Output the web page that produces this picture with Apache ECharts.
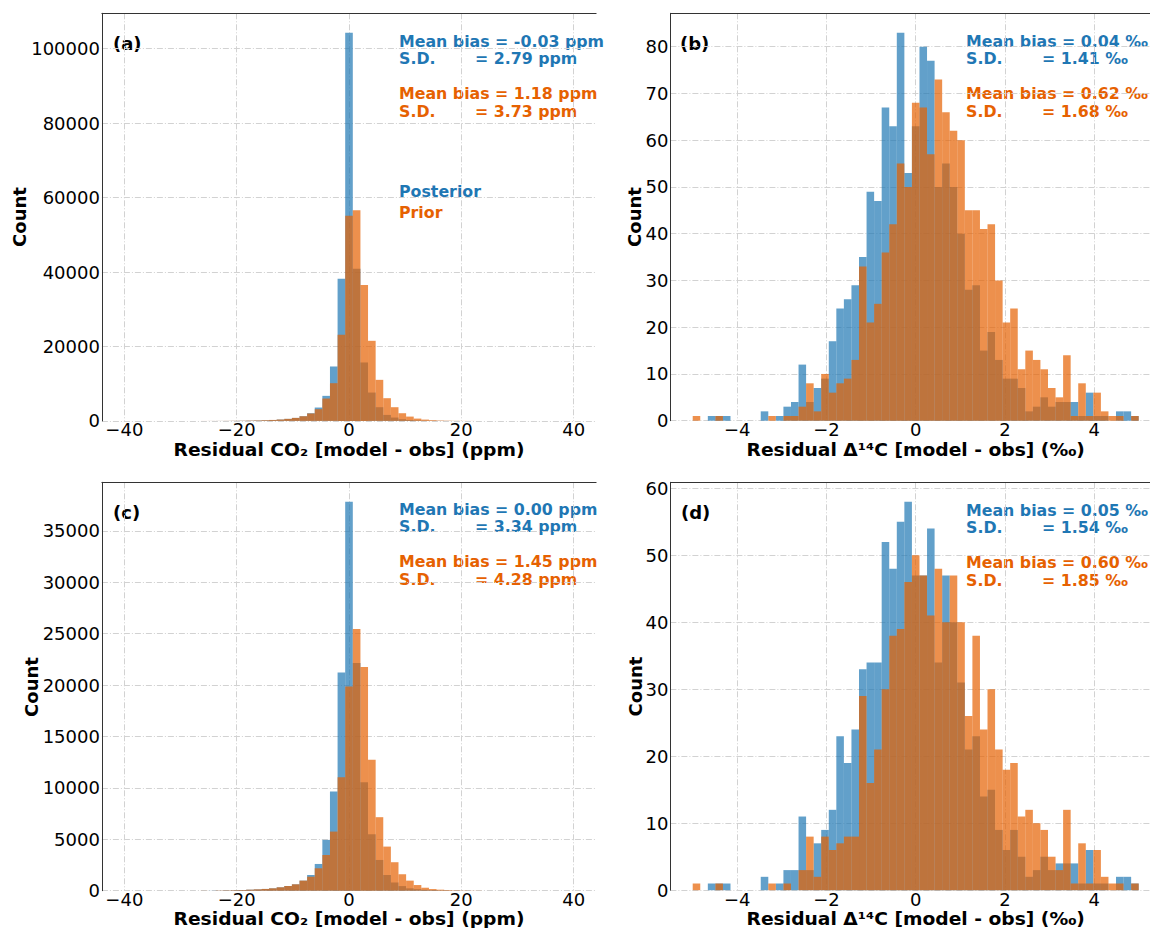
<!DOCTYPE html>
<html>
<head>
<meta charset="utf-8">
<script src="https://cdn.jsdelivr.net/npm/echarts@6/dist/echarts.min.js"></script>
<style>
html,body{margin:0;padding:0;background:#ffffff;}
#chart{width:1150px;height:928px;}
</style>
</head>
<body>
<div id="chart"></div>
<script>
// ---------------- DATA ----------------
// CO2 residual histograms: 59 bins spanning -40 .. 40 ppm
const co2BinStart = -40;
const co2BinWidth = 80 / 59;
const co2PostA = [0,0,0,0,0,0,0,0,0,0, 5,10,15,20,30,50,80,120,180,250, 360,540,800,1250,2060,3590,6730,14620,38200,104300, 40890,15700,7620,3680,1610,900,450,250,150,80, 50,30,20,10,5,3,2,0,0,0, 0,0,0,0,0,0,0,0,0];
const co2PriorA = [0,0,0,0,0,0,0,0,0,0, 10,15,20,30,45,60,90,130,190,260, 370,550,810,1250,2000,3140,6010,10130,23140,55150, 56580,36500,21520,11030,6100,3680,2060,1160,620,350, 200,110,70,40,25,15,8,0,0,0, 0,0,0,0,0,0,0,0,0];
const co2PostC = [0,0,0,0,0,0,0,0,0,0, 5,10,20,30,50,70,100,130,170,230, 330,460,620,980,1530,2600,4940,9640,21230,37830, 22150,10560,5490,2990,1530,800,450,230,150,90, 60,40,25,15,10,5,3,0,0,0, 0,0,0,0,0,0,0,0,0];
const co2PriorC = [0,0,0,0,0,0,0,0,0,0, 10,0,25,35,50,70,100,130,170,230, 330,460,620,980,1360,2180,3470,5750,11040,19870, 25460,21760,12730,7150,4290,2770,1600,980,550,290, 160,100,60,40,25,15,10,0,0,0, 0,0,0,0,0,0,0,0,0];

// Delta14C residual histograms: 59 bins spanning -5 .. 5 permil
const c14BinStart = -5;
const c14BinWidth = 10 / 59;
const c14PostB = [0,0,1,1,1,0,0,0,0,2, 0,1,3,4,12,4,7,9,17,24, 26,29,35,49,47,67,63,83,53,63, 80,77,50,55,50,40,28,29,15,19, 13,9,9,7,2,3,5,3,4,4, 4,1,6,1,1,0,2,2,1];
const c14PriorB = [1,0,0,1,0,0,0,0,0,0, 1,0,1,1,3,8,2,10,6,8, 9,13,33,21,25,36,42,55,50,68, 67,57,73,66,62,60,45,45,41,42, 30,21,24,11,15,13,11,7,5,14, 1,8,1,6,2,1,1,0,1];
const c14PostD = [0,0,1,1,1,0,0,0,0,2, 0,1,3,3,11,3,7,9,12,23, 19,24,33,34,34,52,48,55,58,47, 47,54,34,47,40,31,21,23,14,15, 9,6,9,5,2,3,5,3,4,4, 4,1,6,1,1,0,2,2,1];
const c14PriorD = [1,0,0,1,0,0,0,0,0,0, 1,0,1,0,3,8,2,8,6,7, 8,8,29,16,21,30,38,39,46,50, 47,41,48,40,47,40,26,38,24,30, 21,18,19,11,12,10,9,5,3,12, 1,7,1,6,2,1,1,0,1];

// Tick labels
const co2XTicks = [-40, -20, 0, 20, 40];
const c14XTicks = [-4, -2, 0, 2, 4];
const yTicksA = [0, 20000, 40000, 60000, 80000, 100000];
const yTicksB = [0, 10, 20, 30, 40, 50, 60, 70, 80];
const yTicksC = [0, 5000, 10000, 15000, 20000, 25000, 30000, 35000];
const yTicksD = [0, 10, 20, 30, 40, 50, 60];

// Texts
const panelLabels = ['(a)', '(b)', '(c)', '(d)'];
const xTitleCO2 = 'Residual CO\u2082 [model - obs] (ppm)';
const xTitleC14 = 'Residual \u0394\u00b9\u2074C [model - obs] (\u2030)';
const yTitle = 'Count';
const statsA = ['Mean bias = -0.03 ppm', '= 2.79 ppm', 'Mean bias = 1.18 ppm', '= 3.73 ppm'];
const statsB = ['Mean bias = 0.04 \u2030', '= 1.41 \u2030', 'Mean bias = 0.62 \u2030', '= 1.68 \u2030'];
const statsC = ['Mean bias = 0.00 ppm', '= 3.34 ppm', 'Mean bias = 1.45 ppm', '= 4.28 ppm'];
const statsD = ['Mean bias = 0.05 \u2030', '= 1.54 \u2030', 'Mean bias = 0.60 \u2030', '= 1.85 \u2030'];
const sdLabel = 'S.D.';
const legendNames = ['Posterior', 'Prior'];

// ---------------- STYLE / LAYOUT ----------------
const BLUE = '#1f77b4', ORANGE = '#e66101';
const BLUE_FILL = 'rgba(31,119,180,0.7)', ORANGE_FILL = 'rgba(230,97,1,0.7)';
const FONT = 'DejaVu Sans';
const SPINE = '#333333';
const GRIDC = '#d2d2d2';

const panels = [
  {grid:{left:101.9, top:13.3, width:494.2, height:407.6}, xr:[-44,44], xt:co2XTicks, yt:yTicksA,
   post:co2PostA, prior:co2PriorA, bs:co2BinStart, bw:co2BinWidth},
  {grid:{left:670.4, top:13.3, width:490.6, height:407.4}, xr:[-5.5,5.5], xt:c14XTicks, yt:yTicksB,
   post:c14PostB, prior:c14PriorB, bs:c14BinStart, bw:c14BinWidth},
  {grid:{left:101.9, top:482.3, width:494.2, height:408.4}, xr:[-44,44], xt:co2XTicks, yt:yTicksC,
   post:co2PostC, prior:co2PriorC, bs:co2BinStart, bw:co2BinWidth},
  {grid:{left:670.4, top:482.3, width:490.6, height:407.9}, xr:[-5.5,5.5], xt:c14XTicks, yt:yTicksD,
   post:c14PostD, prior:c14PriorD, bs:c14BinStart, bw:c14BinWidth}
];

function histData(start, width, counts) {
  const out = [];
  counts.forEach((c, i) => { if (c > 0) out.push([start + i * width, start + (i + 1) * width, c]); });
  return out;
}
function histSeries(idx, start, width, counts, fill, name) {
  return {
    type: 'custom', name: name, coordinateSystem: 'cartesian2d', xAxisIndex: idx, yAxisIndex: idx,
    data: histData(start, width, counts), encode: {x: [0, 1], y: 2}, silent: true, animation: false,
    renderItem: function (params, api) {
      const p0 = api.coord([api.value(0), api.value(2)]);
      const p1 = api.coord([api.value(1), 0]);
      return {type: 'rect', shape: {x: p0[0], y: p0[1], width: p1[0] - p0[0], height: p1[1] - p0[1]},
              style: {fill: fill}};
    }
  };
}
const minusFmt = v => (v < 0 ? '\u2212' + Math.abs(v) : String(v));
const plainFmt = v => String(Math.round(v));
const gridLine = {show: true, lineStyle: {color: GRIDC, width: 1, type: [6, 2, 1, 2]}};

const grids = [], xAxes = [], yAxes = [], series = [];
panels.forEach((p, i) => {
  grids.push(Object.assign({outerBoundsMode: 'none', containLabel: false}, p.grid));
  const ymax = Math.max.apply(null, p.post.concat(p.prior)) * 1.05;
  xAxes.push({gridIndex: i, type: 'value', position: 'bottom', min: p.xr[0], max: p.xr[1],
    axisLine: {show: false}, axisTick: {show: false, customValues: p.xt},
    axisLabel: {customValues: p.xt, formatter: minusFmt, fontFamily: FONT, fontSize: 18, lineHeight: 14,
                color: '#000', margin: 2},
    splitLine: gridLine});
  yAxes.push({gridIndex: i, type: 'value', min: 0, max: ymax,
    axisLine: {show: true, onZero: false, lineStyle: {color: SPINE, width: 1}},
    axisTick: {show: false, customValues: p.yt},
    axisLabel: {customValues: p.yt, formatter: plainFmt, fontFamily: FONT, fontSize: 18, lineHeight: 16,
                color: '#000', margin: 2},
    splitLine: gridLine});
  series.push(histSeries(i, p.bs, p.bw, p.post, BLUE_FILL, legendNames[0]));
  series.push(histSeries(i, p.bs, p.bw, p.prior, ORANGE_FILL, legendNames[1]));
});
// top spines
panels.forEach((p, i) => {
  xAxes.push({gridIndex: i, type: 'value', position: 'top', min: p.xr[0], max: p.xr[1],
    axisLine: {show: true, onZero: false, lineStyle: {color: SPINE, width: 1}},
    axisTick: {show: false}, axisLabel: {show: false}, splitLine: {show: false}});
});

// ---------------- TEXT ----------------
function txt(x, y, text, opts) {
  opts = opts || {};
  const size = opts.size || 18;
  return {type: 'text', x: x, y: y, rotation: opts.rot || 0, scaleX: opts.sx || 1, silent: true,
    style: {text: text, fill: opts.color || '#000', fontFamily: FONT, fontSize: size,
            lineHeight: opts.lh || size, fontWeight: opts.weight || 'normal',
            align: opts.align || 'left', verticalAlign: 'middle'}};
}
const graphics = [];
const statOrigins = [[399, 41, statsA], [966, 41, statsB], [399, 509.5, statsC], [966, 510, statsD]];
const panelLabelPos = [[113, 43], [680, 43.5], [113, 512], [681, 512]];
const countPos = [[19, 217], [634, 217], [31, 687], [635, 686.5]];
const xTitlePos = [[349, 449.5, xTitleCO2], [915.7, 449.5, xTitleC14], [349, 919, xTitleCO2], [915.7, 919, xTitleC14]];
const STAT = 15.8;
statOrigins.forEach(s => {
  const [x, y, st] = s;
  graphics.push(txt(x, y, st[0], {color: BLUE, weight: 'bold', size: STAT, lh: 14}));
  graphics.push(txt(x, y + 17, sdLabel, {color: BLUE, weight: 'bold', size: STAT, lh: 14}));
  graphics.push(txt(x + 76, y + 17, st[1], {color: BLUE, weight: 'bold', size: STAT, lh: 14}));
  graphics.push(txt(x, y + 52, st[2], {color: ORANGE, weight: 'bold', size: STAT, lh: 14}));
  graphics.push(txt(x, y + 70, sdLabel, {color: ORANGE, weight: 'bold', size: STAT, lh: 14}));
  graphics.push(txt(x + 76, y + 70, st[3], {color: ORANGE, weight: 'bold', size: STAT, lh: 14}));
});
graphics.push(txt(399, 191, legendNames[0], {color: BLUE, weight: 'bold', size: STAT, lh: 14}));
graphics.push(txt(399, 212, legendNames[1], {color: ORANGE, weight: 'bold', size: STAT, lh: 14}));
panelLabelPos.forEach((p, i) => graphics.push(txt(p[0], p[1], panelLabels[i], {weight: 'bold', size: 18})));
countPos.forEach(p => graphics.push(txt(p[0], p[1], yTitle, {weight: 'bold', size: 18, lh: 16, align: 'center', rot: Math.PI / 2})));
xTitlePos.forEach(p => graphics.push(txt(p[0], p[1], p[2], {weight: 'bold', size: 17, lh: 14, align: 'center', sx: 1.1})));

const chart = echarts.init(document.getElementById('chart'), null, {renderer: 'svg', width: 1150, height: 928});
chart.setOption({
  animation: false,
  backgroundColor: '#ffffff',
  grid: grids,
  xAxis: xAxes,
  yAxis: yAxes,
  series: series,
  graphic: graphics
});
</script>
</body>
</html>
